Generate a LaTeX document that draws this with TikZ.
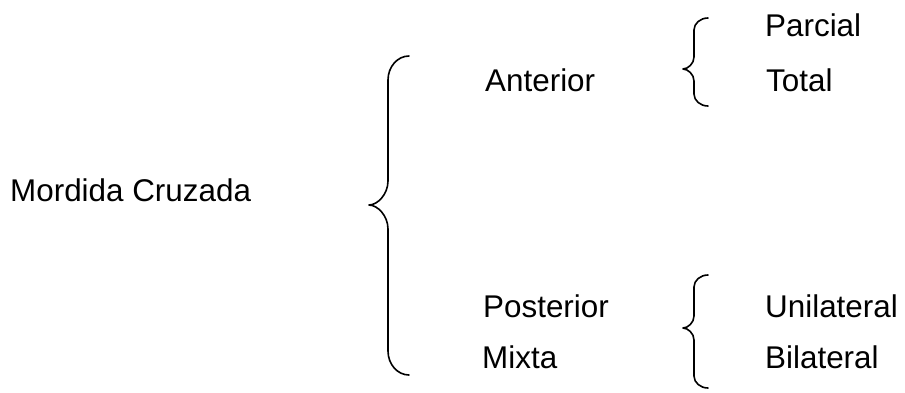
\documentclass[tikz,border=0pt]{standalone}
\usepackage{fontspec}
\setmainfont{Liberation Sans}
% #1 end x, #2 stem x, #3 tip x, #4 top y, #5 tip y, #6 bottom y, #7 corner radius
\newcommand{\curlybrace}[7]{%
  \draw[bracestroke]
    (#1,#4) .. controls ({#2+0.45*(#1-#2)},#4) and (#2,{#4+0.45*#7}) .. (#2,#4+#7)
    -- (#2,#5-#7) .. controls (#2,{#5-0.45*#7}) and ({#3+0.45*(#2-#3)},#5) .. (#3,#5)
    .. controls ({#3+0.45*(#2-#3)},#5) and (#2,{#5+0.45*#7}) .. (#2,#5+#7)
    -- (#2,#6-#7) .. controls (#2,{#6-0.45*#7}) and ({#2+0.45*(#1-#2)},#6) .. (#1,#6);}
\begin{document}
\begin{tikzpicture}[x=1pt,y=-1pt,
  label/.style={anchor=base west,inner sep=0pt,font=\fontsize{31.4}{38}\selectfont},
  bracestroke/.style={line width=1.6pt,line cap=round,line join=round}]
\useasboundingbox[fill=white] (0,0) rectangle (905,392);
% labels
\node[label] (mc) at (10,201) {Mordida Cruzada};
\node[label] (ant) at (485,91) {Anterior};
\node[label] (par) at (765,36) {Parcial};
\node[label] (tot) at (766,91) {Total};
\node[label] (pos) at (483,317) {Posterior};
\node[label] (mix) at (482,368) {Mixta};
\node[label] (uni) at (765,317) {Unilateral};
\node[label] (bil) at (765,368) {Bilateral};
% braces
\curlybrace{409}{388}{369}{56}{205}{375}{24}
\curlybrace{708}{694}{683}{18}{69}{106}{12}
\curlybrace{708}{694}{683}{275}{328}{388}{12}
\end{tikzpicture}
\end{document}
